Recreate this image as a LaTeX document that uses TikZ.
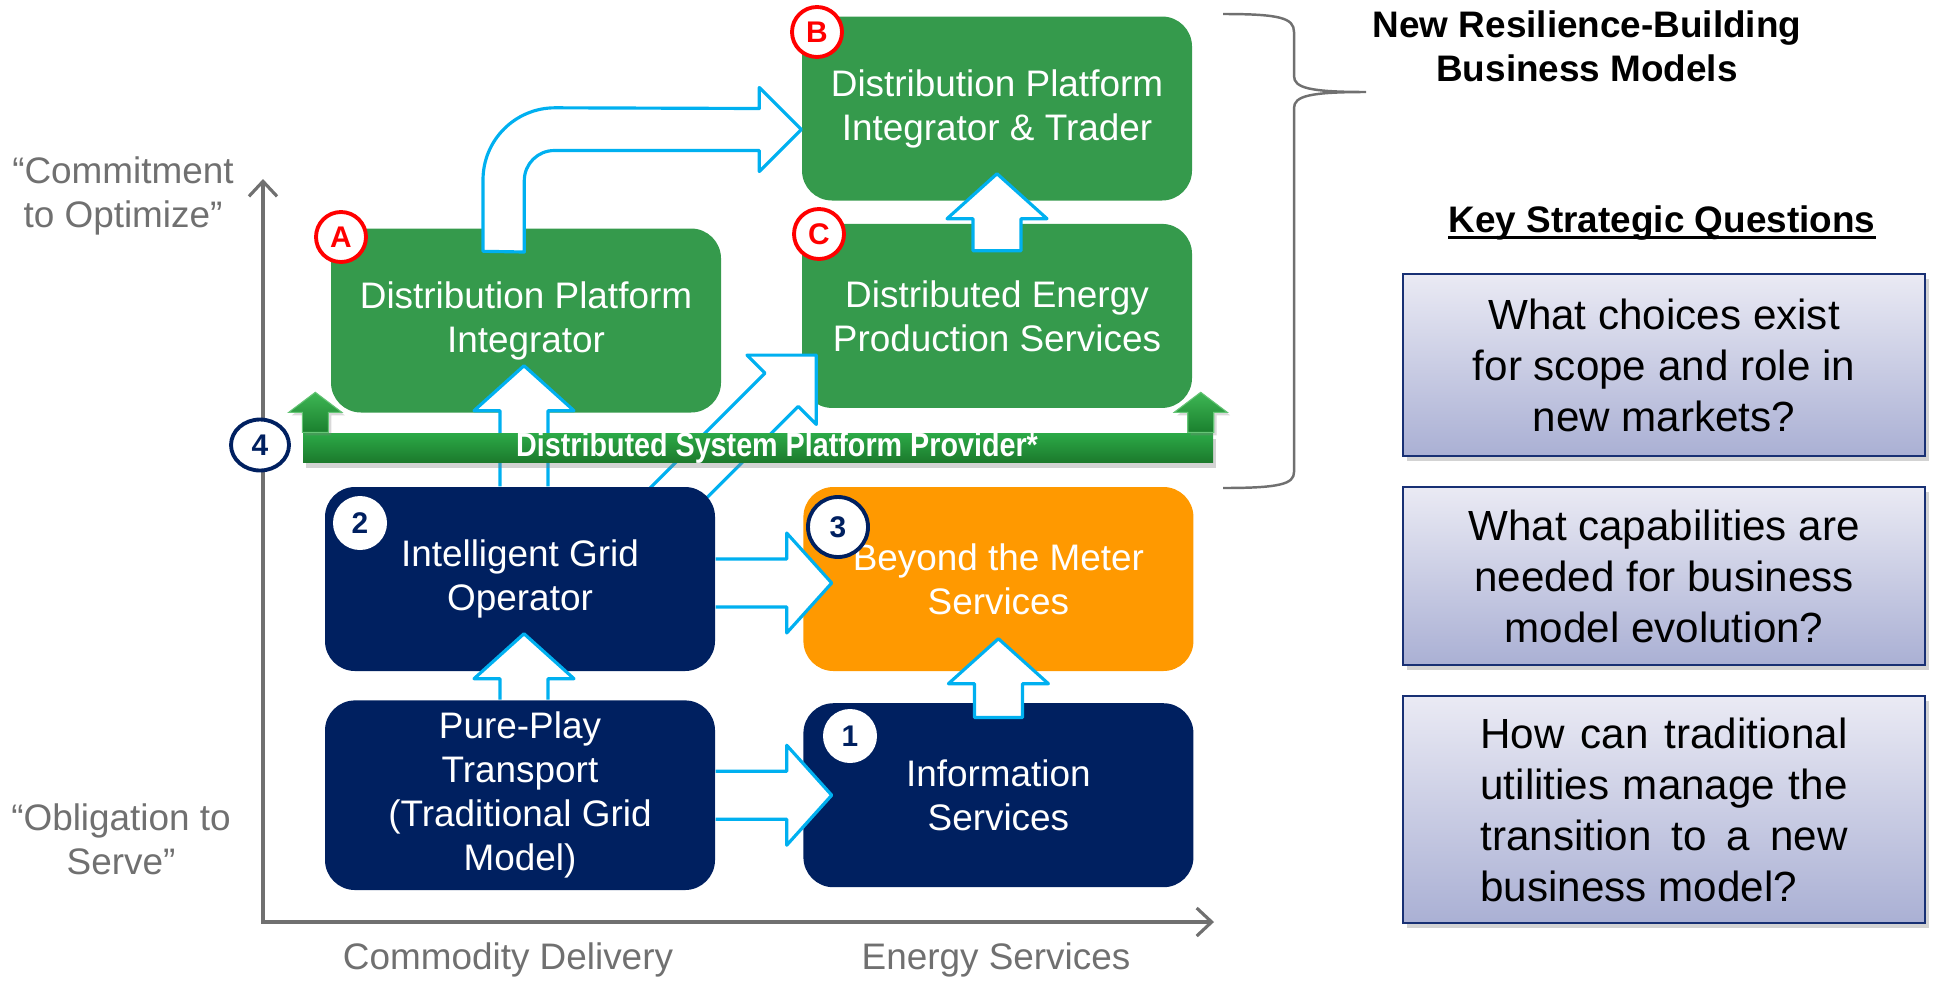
\documentclass[tikz,border=0pt]{standalone}
\usepackage{fontspec}
\setmainfont{Liberation Sans}
\usetikzlibrary{calc,positioning,arrows.meta,shadows,shapes.geometric}

\definecolor{modelgreen}{RGB}{53,154,76}
\definecolor{navy}{RGB}{0,32,96}
\definecolor{meterorange}{RGB}{255,153,0}
\definecolor{flowcyan}{RGB}{0,176,240}
\definecolor{axisgray}{RGB}{112,112,112}
\definecolor{bartop}{RGB}{44,170,72}
\definecolor{barbottom}{RGB}{28,122,44}
\definecolor{lifttop}{RGB}{62,182,84}
\definecolor{liftbottom}{RGB}{26,128,46}
\definecolor{qtop}{RGB}{234,234,244}
\definecolor{qbottom}{RGB}{170,176,212}
\definecolor{qedge}{RGB}{24,48,116}

\newcommand\shaftw{0.24cm}
\newcommand\headw{0.5cm}
\newcommand\headl{0.45cm}
% hollow block arrow from #2 to tip #3, [-- cycle] closes the tail
\newcommand\blockarrow[3][]{%
  \coordinate (ba-base) at ($(#3)!\headl!(#2)$);
  \filldraw [flow] ($(#2)!\shaftw!90:(#3)$) -- ($(ba-base)!\shaftw!90:(#3)$)
    -- ($(ba-base)!\headw!90:(#3)$) -- (#3) -- ($(ba-base)!\headw!-90:(#3)$)
    -- ($(ba-base)!\shaftw!-90:(#3)$) -- ($(#2)!\shaftw!-90:(#3)$) #1;
}

\begin{document}
\begin{tikzpicture}[
    font=\fontsize{10.5}{12.5}\selectfont,
    model/.style={rounded corners=0.3cm, minimum width=3.9cm, minimum height=1.84cm,
      align=center, text=white},
    flow/.style={draw=flowcyan, fill=white, line width=0.9pt, line join=round},
    badge/.style={circle, fill=white, inner sep=0pt, minimum size=0.5cm,
      font=\fontsize{8.5}{10}\selectfont\bfseries},
    question/.style={draw=qedge, line width=0.7pt, top color=qtop, bottom color=qbottom,
      minimum width=5.22cm, align=center,
      drop shadow={opacity=0.35, shadow xshift=0.04cm, shadow yshift=-0.05cm},
      font=\fontsize{12}{14.5}\selectfont},
    lift/.style={draw=lifttop!80!white, line width=0.3pt, top color=lifttop, bottom color=liftbottom,
      drop shadow={opacity=0.3, shadow xshift=0.03cm, shadow yshift=-0.03cm}},
    axislabel/.style={text=axisgray, align=center}
  ]
  \useasboundingbox (0,0) rectangle (19.35,-9.84);

  % axes
  \coordinate (origin) at (2.63,-9.22);
  \coordinate (ytop) at (2.63,-1.79);
  \coordinate (xend) at (12.14,-9.22);
  \draw [axisgray, line width=0.9pt,
    {Straight Barb[length=1.5mm,width=2.8mm]}-{Straight Barb[length=1.5mm,width=2.8mm]}]
    (ytop) -- (origin) -- (xend);

  \node [axislabel] (commit) at (1.23,-1.96) {“Commitment\\to Optimize”};
  \node [axislabel] (oblig) at (1.21,-8.39) {“Obligation to\\Serve”};
  \node [axislabel] (commod) at (5.08,-9.60) {Commodity Delivery};
  \node [axislabel] (esvc) at (9.96,-9.60) {Energy Services};

  % business models
  \node [model, fill=modelgreen] (b) at (9.97,-1.085) {Distribution Platform\\Integrator \& Trader};
  \node [model, fill=modelgreen, below=0.22cm of b] (c) {Distributed Energy\\Production Services};
  \node [model, fill=modelgreen] (a) at (5.26,-3.205) {Distribution Platform\\Integrator};

  \coordinate (c-tip) at ($(c.south west)+(0.15,0.535)$);
  \coordinate (c-tail) at ($(c.south west)+(-1.42,-1.035)$);
  {\renewcommand\headl{0.49cm}\renewcommand\headw{0.49cm}\renewcommand\shaftw{0.235cm}
   \blockarrow{c-tail}{c-tip}}

  \node [model, fill=navy] (igo) at (5.20,-5.79) {Intelligent Grid\\Operator};
  \node [model, fill=meterorange, right=0.87cm of igo] (btm) {Beyond the Meter\\Services};
  \node [model, fill=navy, below=0.28cm of igo] (pure) {Pure-Play\\Transport\\(Traditional Grid\\Model)};
  \node [model, fill=navy, right=0.87cm of pure] (info) {Information\\Services};

  % transitions
  \coordinate (pure-top) at ($(pure.north)+(0.04,0)$);
  \coordinate (igo-tip) at ($(igo.south)+(0.04,0.38)$);
  \blockarrow{pure-top}{igo-tip}

  \coordinate (info-top) at ($(info.north)+(0,-0.15)$);
  \coordinate (btm-tip) at ($(btm.south)+(0,0.33)$);
  \blockarrow[-- cycle]{info-top}{btm-tip}

  \coordinate (info-tip) at ($(info.west)+(0.29,0)$);
  \blockarrow{pure.east}{info-tip}

  \coordinate (igo-east) at ($(igo.east)+(0,-0.04)$);
  \coordinate (btm-side) at ($(btm.west)+(0.29,-0.04)$);
  \blockarrow{igo-east}{btm-side}

  \coordinate (igo-top) at ($(igo.north)+(0.04,0)$);
  \coordinate (a-tip) at ($(a.south)+(-0.02,0.475)$);
  \blockarrow{igo-top}{a-tip}

  \coordinate (c-top) at ($(c.north)+(0,-0.275)$);
  \coordinate (b-tip) at ($(b.south)+(0,0.275)$);
  \blockarrow[-- cycle]{c-top}{b-tip}

  % bent arrow A to B
  \filldraw [flow] ($(a.north)+(-0.43,-0.235)$) -- ++(0,0.715)
    arc [start angle=180, end angle=90, radius=0.72] -- ($(b.west)+(-0.42,0)$)
    -- ++(0,0.21) -- ($(b.west)+(0,-0.21)$) -- ++(-0.42,-0.42) -- ++(0,0.21)
    -- ++(-2.05,0) arc [start angle=90, end angle=180, radius=0.30] -- ++(0,-0.715) -- cycle;

  % platform provider bar
  \node [minimum width=9.10cm, minimum height=0.29cm, inner sep=0pt,
    top color=bartop, bottom color=barbottom,
    drop shadow={opacity=0.35, shadow xshift=0.03cm, shadow yshift=-0.06cm}] (dsp) at (7.58,-4.475) {};
  \node [text=white, font=\fontsize{9.5}{11}\selectfont\bfseries] (dsptext) at ($(dsp.center)+(0.19,0)$)
    {\scalebox{0.86}[1]{Distributed System Platform Provider*}};
  \filldraw [lift] (dsp.north west) -- ++(0,0.2) -- ++(-0.135,0) -- ++(0.265,0.2)
    -- ++(0.265,-0.2) -- ++(-0.135,0) -- ++(0,-0.2) -- cycle;
  \filldraw [lift] (dsp.north east) -- ++(0,0.2) -- ++(0.135,0) -- ++(-0.265,0.2)
    -- ++(-0.265,-0.2) -- ++(0.135,0) -- ++(0,-0.2) -- cycle;

  % badges
  \node [badge, draw=red, line width=1.1pt, text=red] (ba) at (3.41,-2.37) {A};
  \node [badge, draw=red, line width=1.1pt, text=red] (bb) at (8.17,-0.32) {B};
  \node [badge, draw=red, line width=1.1pt, text=red] (bc) at (8.19,-2.34) {C};
  \node [badge, text=navy, minimum size=0.54cm] (b2) at (3.60,-5.23) {2};
  \node [badge, draw=navy, line width=1.1pt, text=navy, minimum size=0.6cm] (b3) at (8.38,-5.27) {3};
  \node [badge, text=navy, minimum size=0.54cm] (b1) at (8.50,-7.36) {1};
  \node [badge, ellipse, draw=navy, line width=1.1pt, text=navy,
    minimum width=0.58cm, minimum height=0.51cm] (b4) at (2.60,-4.45) {4};

  % brace and right column
  \draw [axisgray, line width=0.7pt] (12.23,-0.14) .. controls (12.80,-0.14) and (12.94,-0.18) .. (12.94,-0.32)
    -- (12.94,-0.76) .. controls (12.94,-0.88) and (13.10,-0.92) .. (13.66,-0.92)
    .. controls (13.10,-0.92) and (12.94,-0.96) .. (12.94,-1.08)
    -- (12.94,-4.72) .. controls (12.94,-4.84) and (12.80,-4.88) .. (12.23,-4.88);

  \node [font=\fontsize{10.5}{12.5}\selectfont\bfseries, align=center] (nrbm) at (15.87,-0.46)
    {New Resilience-Building\\Business Models};
  \node [font=\fontsize{10.5}{12.5}\selectfont\bfseries, inner sep=0pt] (ksq) at (16.62,-2.23)
    {Key Strategic Questions};
  \draw [line width=0.9pt] ($(ksq.base west)+(0,-0.05)$) -- ($(ksq.base east)+(0,-0.05)$);

  \node [question, minimum height=1.82cm] (q1) at (16.64,-3.65)
    {What choices exist\\for scope and role in\\new markets?};
  \node [question, minimum height=1.78cm] (q2) at (16.64,-5.76)
    {What capabilities are\\needed for business\\model evolution?};
  \node [question, minimum height=2.27cm] (q3) at (16.64,-8.095)
    {\makebox[3.67cm][s]{How can traditional}\\\makebox[3.67cm][s]{utilities manage the}\\
     \makebox[3.67cm][s]{transition to a new}\\\makebox[3.67cm][l]{business model?}};
\end{tikzpicture}
\end{document}
